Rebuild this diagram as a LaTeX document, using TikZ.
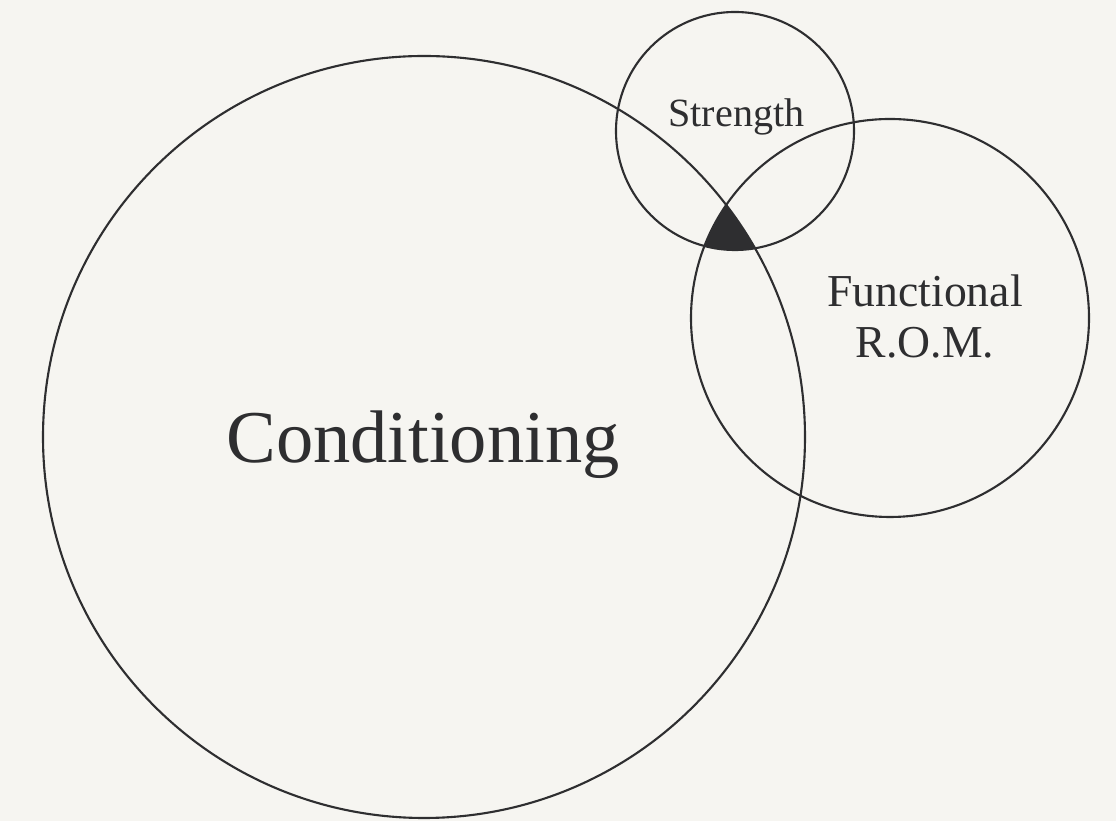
\documentclass[tikz,border=0pt]{standalone}
\usepackage{fontspec}
\setmainfont{Liberation Serif}
\usepackage{tkz-euclide}
\usepackage{tikz}
\definecolor{paper}{HTML}{F6F5F1}
\definecolor{ink}{HTML}{2E2E30}
\tikzset{
  ring/.style={draw=ink, line width=1.5pt},
  label big/.style={text=ink, anchor=base, inner sep=0pt, font=\fontsize{53}{60}\selectfont},
  label small/.style={text=ink, anchor=base, inner sep=0pt, font=\fontsize{28.5}{34}\selectfont},
  label mid/.style={text=ink, anchor=base, inner sep=0pt, align=center, font=\fontsize{32.5}{35.6}\selectfont}
}

\begin{document}
\begin{tikzpicture}
    \fill[paper] (0,0) rectangle (27.9,20.525);
    \useasboundingbox (0,0) rectangle (27.9,20.525);
    \tkzDefPoints{10.6/9.6/Cond,18.375/17.25/Str,22.25/12.575/Fun}
    % shared part of all three
    \begin{scope}
        \clip (Cond) circle (9.525);
        \clip (Str) circle (2.975);
        \fill[ink] (Fun) circle (4.975);
    \end{scope}
    \draw[ring] (Cond) circle (9.525);
    \draw[ring] (Str) circle (2.975);
    \draw[ring] (Fun) circle (4.975);
    \node[label big] (condtext) at (10.575,8.95) {Conditioning};
    \node[label small] (strtext) at (18.41,17.35) {Strength};
    \node[label mid, anchor=north] (funtext) at (23.125,13.65) {Functional\\R.O.M.};
\end{tikzpicture}
\end{document}
